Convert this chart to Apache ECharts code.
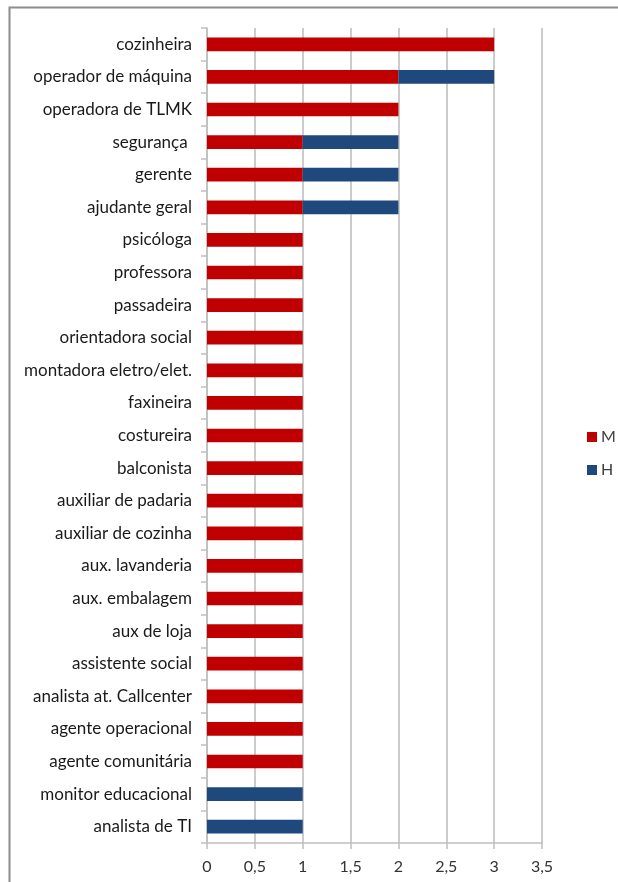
<!DOCTYPE html>
<html>
<head>
<meta charset="utf-8">
<script src="https://cdn.jsdelivr.net/npm/echarts@6/dist/echarts.min.js"></script>
<style>
html,body{margin:0;padding:0;background:#fff;}
#chart{width:618px;height:882px;}
</style>
</head>
<body>
<div id="chart"></div>
<script>
// Occupations, listed top to bottom
const categories = [
  'cozinheira', 'operador de máquina', 'operadora de TLMK', 'segurança ', 'gerente',
  'ajudante geral', 'psicóloga', 'professora', 'passadeira', 'orientadora social',
  'montadora eletro/elet.', 'faxineira', 'costureira', 'balconista', 'auxiliar de padaria',
  'auxiliar de cozinha', 'aux. lavanderia', 'aux. embalagem', 'aux de loja', 'assistente social',
  'analista at. Callcenter', 'agente operacional', 'agente comunitária', 'monitor educacional', 'analista de TI'
];
// Women (M) and men (H) per occupation
const valuesM = [3, 2, 2, 1, 1, 1, 1, 1, 1, 1, 1, 1, 1, 1, 1, 1, 1, 1, 1, 1, 1, 1, 1, 0, 0];
const valuesH = [0, 1, 0, 1, 1, 1, 0, 0, 0, 0, 0, 0, 0, 0, 0, 0, 0, 0, 0, 0, 0, 0, 0, 1, 1];
const seriesNames = ['M', 'H'];
const xTicks = { min: 0, max: 3.5, step: 0.5 };

const font = 'Lato, "Open Sans", sans-serif';
const chart = echarts.init(document.getElementById('chart'), null, { renderer: 'canvas' });

chart.setOption({
  animation: false,
  backgroundColor: '#fff',
  textStyle: { fontFamily: font },
  graphic: [{
    type: 'rect',
    shape: { x: 9.5, y: 7.5, width: 700, height: 900 },
    style: { fill: 'none', stroke: '#8c8c8c', lineWidth: 2 },
    silent: true
  }],
  grid: { left: 207, right: 76, top: 28, bottom: 39, containLabel: false },
  legend: {
    orient: 'vertical',
    left: 582, top: 424,
    itemWidth: 10, itemHeight: 10, itemGap: 17,
    icon: 'rect',
    textStyle: { fontFamily: font, fontSize: 16, color: '#404040', padding: [0, 0, 0, -1] },
    data: seriesNames
  },
  xAxis: {
    type: 'value',
    min: xTicks.min, max: xTicks.max, interval: xTicks.step,
    axisLine: { show: true, lineStyle: { color: '#bfbfbf', width: 1.5 } },
    axisTick: { show: true, length: 6, lineStyle: { color: '#bfbfbf', width: 1.5 } },
    splitLine: { show: true, lineStyle: { color: '#cccccc', width: 2 } },
    axisLabel: {
      fontFamily: font, fontSize: 16, color: '#333', margin: 16,
      formatter: v => String(v).replace('.', ',')
    }
  },
  yAxis: {
    type: 'category',
    data: categories,
    inverse: true,
    axisLine: { show: true, lineStyle: { color: '#bfbfbf', width: 1.5 } },
    axisTick: { show: true, length: 6, lineStyle: { color: '#bfbfbf', width: 1.5 } },
    axisLabel: { fontFamily: font, fontSize: 17, color: '#1a1a1a', margin: 15 }
  },
  series: [
    {
      name: 'M', type: 'bar', stack: 'total', data: valuesM,
      barWidth: '42%',
      itemStyle: { color: '#C00000' }
    },
    {
      name: 'H', type: 'bar', stack: 'total', data: valuesH,
      barWidth: '42%',
      itemStyle: { color: '#1F497D' }
    }
  ]
});
</script>
</body>
</html>
